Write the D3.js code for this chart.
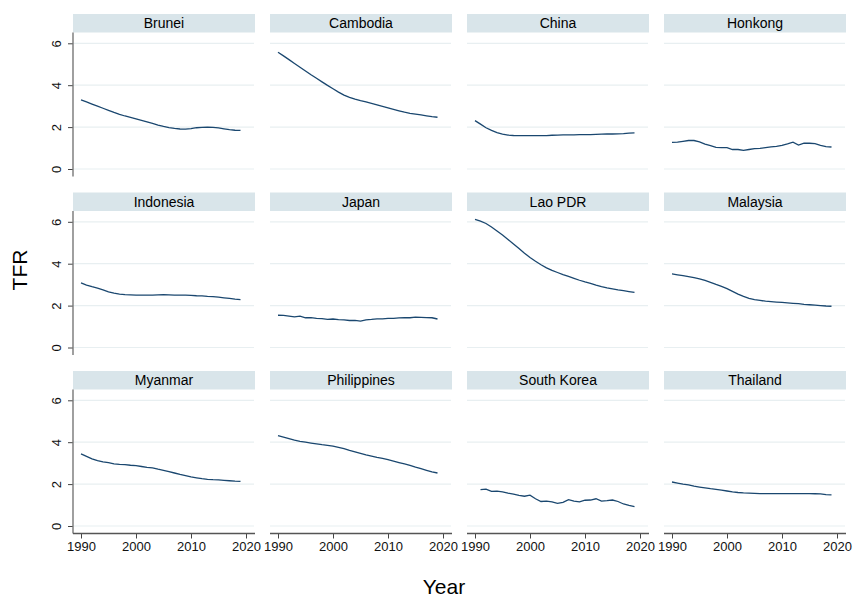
<!DOCTYPE html>
<html>
<head>
<meta charset="utf-8">
<script src="https://cdn.jsdelivr.net/npm/d3@7"></script>
<style>
  html, body { margin: 0; padding: 0; background: #fff; }
  svg { display: block; font-family: "Liberation Sans", Arial, sans-serif; }
</style>
</head>
<body>
<svg id="chart" width="854" height="599"></svg>
<script>
// Total fertility rate by country, 1990-2019
const years = d3.range(1990, 2020);

const countries = ["Brunei", "Cambodia", "China", "Honkong",
                   "Indonesia", "Japan", "Lao PDR", "Malaysia",
                   "Myanmar", "Philippines", "South Korea", "Thailand"];

const brunei = [3.30, 3.20, 3.10, 3.00, 2.90, 2.80, 2.70, 2.61, 2.53, 2.46,
                2.39, 2.32, 2.25, 2.18, 2.10, 2.03, 1.98, 1.94, 1.91, 1.90,
                1.93, 1.97, 1.99, 2.00, 1.99, 1.96, 1.92, 1.88, 1.85, 1.84];
const cambodia = [5.57, 5.40, 5.22, 5.04, 4.86, 4.68, 4.50, 4.33, 4.16, 3.99,
                  3.83, 3.67, 3.53, 3.42, 3.33, 3.26, 3.20, 3.13, 3.06, 2.99,
                  2.92, 2.85, 2.78, 2.71, 2.66, 2.62, 2.58, 2.54, 2.50, 2.47];
const china = [2.31, 2.14, 1.97, 1.84, 1.74, 1.67, 1.62, 1.60, 1.59, 1.59,
               1.59, 1.59, 1.59, 1.59, 1.61, 1.62, 1.63, 1.63, 1.63, 1.64,
               1.64, 1.64, 1.65, 1.66, 1.67, 1.67, 1.68, 1.69, 1.71, 1.72];
const honkong = [1.27, 1.28, 1.32, 1.36, 1.36, 1.29, 1.19, 1.11, 1.03, 1.02,
                 1.02, 0.93, 0.93, 0.89, 0.93, 0.97, 0.98, 1.02, 1.06, 1.08,
                 1.13, 1.20, 1.28, 1.14, 1.23, 1.23, 1.21, 1.13, 1.07, 1.05];
const indonesia = [3.08, 2.98, 2.90, 2.83, 2.75, 2.66, 2.60, 2.55, 2.52, 2.51,
                   2.50, 2.50, 2.50, 2.50, 2.51, 2.52, 2.51, 2.50, 2.50, 2.50,
                   2.49, 2.47, 2.46, 2.44, 2.43, 2.40, 2.37, 2.34, 2.31, 2.29];
const japan = [1.54, 1.53, 1.50, 1.46, 1.50, 1.42, 1.43, 1.39, 1.38, 1.34,
               1.36, 1.33, 1.32, 1.29, 1.29, 1.26, 1.32, 1.34, 1.37, 1.37,
               1.39, 1.39, 1.41, 1.43, 1.42, 1.45, 1.44, 1.43, 1.42, 1.36];
const laoPDR = [6.11, 6.03, 5.92, 5.75, 5.56, 5.37, 5.16, 4.94, 4.72, 4.50,
                4.30, 4.12, 3.95, 3.80, 3.68, 3.58, 3.48, 3.39, 3.30, 3.21,
                3.13, 3.06, 2.98, 2.91, 2.85, 2.80, 2.75, 2.71, 2.67, 2.63];
const malaysia = [3.51, 3.47, 3.43, 3.38, 3.33, 3.28, 3.20, 3.11, 3.01, 2.92,
                  2.81, 2.68, 2.55, 2.44, 2.35, 2.29, 2.25, 2.21, 2.19, 2.17,
                  2.15, 2.13, 2.11, 2.09, 2.06, 2.04, 2.02, 2.00, 1.98, 1.97];
const myanmar = [3.44, 3.32, 3.20, 3.12, 3.06, 3.02, 2.97, 2.94, 2.93, 2.90,
                 2.88, 2.84, 2.80, 2.77, 2.71, 2.66, 2.60, 2.53, 2.46, 2.40,
                 2.34, 2.30, 2.26, 2.23, 2.21, 2.20, 2.18, 2.16, 2.14, 2.13];
const philippines = [4.31, 4.24, 4.17, 4.10, 4.04, 4.00, 3.96, 3.92, 3.88, 3.85,
                     3.81, 3.75, 3.69, 3.61, 3.54, 3.47, 3.40, 3.34, 3.28, 3.23,
                     3.17, 3.10, 3.03, 2.96, 2.89, 2.81, 2.74, 2.66, 2.58, 2.53];
const southKorea = [null, 1.74, 1.76, 1.65, 1.66, 1.63, 1.57, 1.52, 1.46, 1.42,
                    1.47, 1.30, 1.17, 1.19, 1.15, 1.08, 1.13, 1.26, 1.19, 1.15,
                    1.23, 1.24, 1.30, 1.19, 1.21, 1.24, 1.17, 1.05, 0.98, 0.92];
const thailand = [2.10, 2.05, 2.00, 1.96, 1.90, 1.86, 1.82, 1.78, 1.75, 1.71,
                  1.67, 1.63, 1.60, 1.58, 1.57, 1.56, 1.55, 1.55, 1.55, 1.55,
                  1.55, 1.55, 1.55, 1.55, 1.55, 1.55, 1.54, 1.53, 1.50, 1.49];

const tfrSeries = [brunei, cambodia, china, honkong, indonesia, japan,
                   laoPDR, malaysia, myanmar, philippines, southKorea, thailand];

const yTicks = [0, 2, 4, 6];
const xTicks = [1990, 2000, 2010, 2020];

// Layout of the 4 x 3 panel grid
const nCols = 4;
const colLeft = 73, colStep = 197, panelW = 182;
const rowTop = 14, rowStep = 178.5, stripH = 18.5, plotH = 144;

const svg = d3.select("#chart");

const x = d3.scaleLinear().domain([1990, 2020]).range([8, 173]);
const y = d3.scaleLinear().domain([0, 6]).range([155 - stripH, 29.3 - stripH]);

const line = d3.line()
  .defined(d => d.v != null)
  .x(d => x(d.year))
  .y(d => y(d.v));

countries.forEach((name, i) => {
  const col = i % nCols, row = Math.floor(i / nCols);
  const left = colLeft + col * colStep;
  const top = rowTop + row * rowStep;
  const g = svg.append("g").attr("transform", `translate(${left},${top})`);

  // strip with the country name
  g.append("rect")
    .attr("x", 0).attr("y", 0)
    .attr("width", panelW).attr("height", stripH)
    .attr("fill", "#d9e5ea");
  g.append("text")
    .attr("x", panelW / 2).attr("y", stripH / 2 + 4.8)
    .attr("text-anchor", "middle")
    .attr("font-size", 14)
    .attr("fill", "#000")
    .text(name);

  const plot = g.append("g").attr("transform", `translate(0,${stripH})`);

  // horizontal grid
  plot.selectAll("line.grid")
    .data(yTicks)
    .join("line")
    .attr("class", "grid")
    .attr("x1", 0).attr("x2", panelW - 1)
    .attr("y1", d => y(d)).attr("y2", d => y(d))
    .attr("stroke", "#e8eff1")
    .attr("stroke-width", 1.2);

  // y axis on the first column
  if (col === 0) {
    const yAxis = d3.axisLeft(y).tickValues(yTicks).tickFormat(d3.format("d"))
      .tickSize(5).tickPadding(3);
    const ya = plot.append("g").call(yAxis);
    ya.select(".domain").remove();
    ya.selectAll(".tick line").attr("stroke", "#444");
    ya.selectAll(".tick text")
      .attr("font-size", 13)
      .attr("font-family", "Liberation Sans, Arial, sans-serif")
      .attr("fill", "#111")
      .attr("text-anchor", "middle")
      .attr("transform", "rotate(-90)")
      .attr("x", 0)
      .attr("dy", null)
      .attr("y", -12);
    plot.append("line")
      .attr("x1", 0).attr("x2", 0)
      .attr("y1", 0).attr("y2", plotH)
      .attr("stroke", "#777").attr("stroke-width", 1.4);
  }

  // x axis on the bottom row
  if (row === 2) {
    const xa = plot.append("g")
      .attr("transform", `translate(0,${plotH})`)
      .call(d3.axisBottom(x).tickValues(xTicks).tickFormat(d3.format("d")).tickSize(5).tickPadding(3));
    xa.select(".domain").remove();
    xa.selectAll(".tick line").attr("stroke", "#444");
    xa.selectAll(".tick text")
      .attr("font-size", 13)
      .attr("font-family", "Liberation Sans, Arial, sans-serif")
      .attr("fill", "#111");
    plot.append("line")
      .attr("x1", 0).attr("x2", panelW)
      .attr("y1", plotH).attr("y2", plotH)
      .attr("stroke", "#555").attr("stroke-width", 1.3);
  }

  const pts = years.map((yr, k) => ({ year: yr, v: tfrSeries[i][k] }));
  plot.append("path")
    .datum(pts)
    .attr("d", line)
    .attr("fill", "none")
    .attr("stroke", "#1a476f")
    .attr("stroke-width", 1.3);
});

// axis titles
svg.append("text")
  .attr("transform", "translate(27,270) rotate(-90)")
  .attr("text-anchor", "middle")
  .attr("font-size", 21)
  .attr("fill", "#000")
  .text("TFR");

svg.append("text")
  .attr("x", 444).attr("y", 594)
  .attr("text-anchor", "middle")
  .attr("font-size", 21)
  .attr("fill", "#000")
  .text("Year");
</script>
</body>
</html>
